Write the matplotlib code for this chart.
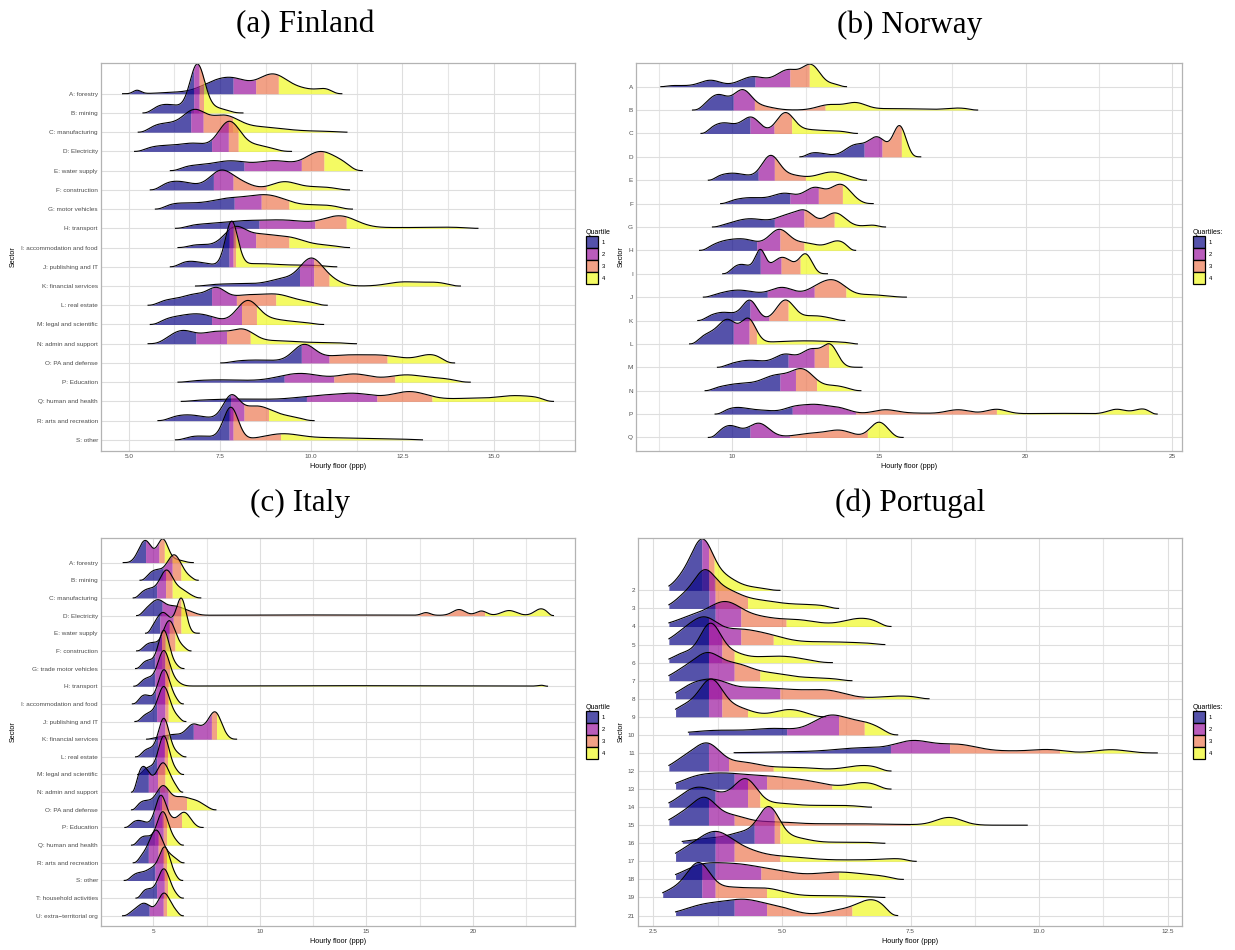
import numpy as np
import matplotlib.pyplot as plt
from matplotlib.patches import Patch
from matplotlib.colors import to_rgba

plt.rcParams['font.family'] = ['Liberation Sans', 'DejaVu Sans']

quartile_colors = ['#0D0887', '#9C179E', '#ED7953', '#F0F921']
quartile_labels = ['1', '2', '3', '4']

# ---------------- (a) Finland ----------------
fi_names = ["A: forestry", "B: mining", "C: manufacturing", "D: Electricity", "E: water supply",
            "F: construction", "G: motor vehicles", "H: transport", "I: accommodation and food",
            "J: publishing and IT", "K: financial services", "L: real estate", "M: legal and scientific",
            "N: admin and support", "O: PA and defense", "P: Education", "Q: human and health",
            "R: arts and recreation", "S: other"]
fi_start = [4.83, 5.39, 5.26, 5.16, 6.14, 5.59, 5.73, 6.28, 6.35, 6.14, 6.83, 5.53, 5.59, 5.53, 7.52, 6.35, 6.44, 5.80, 6.28]
fi_end = [10.84, 8.13, 10.98, 9.46, 11.40, 11.05, 11.13, 14.57, 11.05, 10.70, 14.09, 10.44, 10.34, 11.24, 13.93, 14.36, 16.64, 10.08, 13.05]
fi_quart = [(7.86, 8.48, 9.10), (6.78, 6.93, 7.05), (6.70, 7.04, 7.85), (7.27, 7.73, 8.00), (8.16, 9.73, 10.35),
            (7.32, 7.86, 8.77), (7.89, 8.63, 9.39), (8.57, 10.10, 10.96), (7.90, 8.48, 9.39), (7.75, 7.86, 7.93),
            (9.68, 10.07, 10.49), (7.27, 7.95, 9.03), (7.27, 8.09, 8.50), (6.84, 7.68, 8.33), (9.73, 10.49, 12.08),
            (9.26, 10.62, 12.29), (9.87, 11.80, 13.31), (7.79, 8.16, 8.83), (7.75, 7.86, 9.16)]
# density peaks per sector: (centre, height in rows, width)
fi_peaks = [
    [(5.2, 0.22, 0.12), (6.3, 0.07, 0.45), (7.3, 0.45, 0.4), (7.9, 0.65, 0.4), (8.95, 1.0, 0.4), (9.8, 0.2, 0.35), (10.45, 0.25, 0.25)],
    [(6.0, 0.45, 0.5), (6.88, 2.35, 0.2), (7.35, 0.25, 0.35)],
    [(6.0, 0.45, 0.5), (6.8, 0.95, 0.3), (7.6, 0.8, 0.4), (8.6, 0.25, 0.6), (10.0, 0.05, 0.8)],
    [(6.0, 0.3, 0.6), (6.85, 0.3, 0.35), (7.75, 1.5, 0.3), (8.5, 0.3, 0.4)],
    [(6.8, 0.25, 0.5), (7.8, 0.45, 0.45), (9.0, 0.5, 0.5), (10.25, 0.95, 0.4), (10.9, 0.25, 0.3)],
    [(6.3, 0.45, 0.5), (7.5, 0.85, 0.3), (8.0, 0.4, 0.35), (9.25, 0.4, 0.35), (10.2, 0.15, 0.5)],
    [(6.4, 0.3, 0.6), (7.7, 0.45, 0.5), (8.8, 0.7, 0.55), (10.3, 0.2, 0.5)],
    [(6.9, 0.15, 0.5), (8.0, 0.3, 0.6), (9.3, 0.4, 0.7), (10.8, 0.6, 0.45), (12.5, 0.04, 1.0), (13.8, 0.04, 0.5)],
    [(6.9, 0.15, 0.4), (7.9, 0.95, 0.3), (8.6, 0.6, 0.4), (9.4, 0.45, 0.4), (10.3, 0.12, 0.5)],
    [(6.6, 0.3, 0.5), (7.82, 2.3, 0.17), (8.5, 0.15, 0.5), (9.8, 0.08, 0.7)],
    [(8.0, 0.12, 0.8), (9.3, 0.35, 0.4), (10.0, 1.3, 0.3), (10.5, 0.3, 0.3), (12.5, 0.2, 0.4), (13.4, 0.18, 0.4)],
    [(6.2, 0.3, 0.5), (6.85, 0.4, 0.3), (7.4, 0.7, 0.25), (8.2, 0.5, 0.5), (9.1, 0.45, 0.4), (9.9, 0.15, 0.4)],
    [(6.2, 0.3, 0.5), (7.0, 0.45, 0.45), (8.25, 1.15, 0.3), (8.9, 0.25, 0.45), (9.8, 0.08, 0.4)],
    [(6.45, 0.65, 0.35), (7.4, 0.6, 0.4), (8.15, 0.6, 0.3), (9.0, 0.15, 0.6), (10.5, 0.05, 0.6)],
    [(8.5, 0.15, 0.7), (9.8, 0.85, 0.3), (10.8, 0.35, 0.6), (12.0, 0.35, 0.6), (13.3, 0.4, 0.35)],
    [(7.5, 0.12, 0.8), (9.7, 0.45, 0.6), (11.2, 0.4, 0.45), (12.6, 0.37, 0.5), (13.6, 0.15, 0.4)],
    [(8.0, 0.12, 1.0), (10.3, 0.28, 0.7), (11.3, 0.3, 0.5), (12.7, 0.5, 0.5), (14.3, 0.15, 0.6), (15.6, 0.28, 0.5), (16.3, 0.1, 0.3)],
    [(6.6, 0.3, 0.5), (7.8, 1.1, 0.22), (8.5, 0.75, 0.45), (9.5, 0.15, 0.4)],
    [(6.9, 0.2, 0.5), (7.8, 1.65, 0.2), (9.2, 0.3, 0.5), (10.5, 0.1, 0.7), (12.0, 0.05, 0.7)],
]
fi_ticks = [5.0, 7.5, 10.0, 12.5, 15.0]
fi_ticklabels = ['5.0', '7.5', '10.0', '12.5', '15.0']
fi_minor = [6.25, 8.75, 11.25, 13.75, 16.25]

# ---------------- (b) Norway ----------------
no_names = ['A', 'B', 'C', 'D', 'E', 'F', 'G', 'H', 'I', 'J', 'K', 'L', 'M', 'N', 'P', 'Q']
no_start = [7.56, 8.64, 8.93, 12.30, 9.18, 9.60, 9.32, 8.88, 9.67, 9.01, 8.82, 8.54, 9.49, 9.07, 9.41, 9.18]
no_end = [13.89, 18.36, 14.26, 16.42, 14.57, 14.80, 15.22, 14.20, 13.24, 15.93, 13.83, 14.26, 14.42, 14.38, 24.48, 15.82]
no_quart = [(10.77, 11.96, 12.62), (10.03, 10.75, 13.16), (10.60, 11.42, 12.02), (14.49, 15.10, 15.76),
            (10.88, 11.43, 12.49), (11.96, 12.93, 13.75), (11.43, 12.44, 13.47), (10.83, 11.62, 12.44),
            (10.95, 11.66, 12.31), (11.19, 12.79, 13.87), (10.60, 11.25, 11.90), (10.03, 10.57, 10.82),
            (11.90, 12.79, 13.28), (11.62, 12.15, 12.87), (12.04, 14.20, 19.00), (10.60, 11.96, 14.60)]
no_peaks = [
    [(8.0, 0.05, 0.5), (9.25, 0.27, 0.35), (10.7, 0.42, 0.45), (11.9, 0.7, 0.4), (12.7, 0.85, 0.3), (13.5, 0.1, 0.3)],
    [(9.5, 0.65, 0.35), (10.35, 0.8, 0.3), (11.0, 0.15, 0.4), (13.3, 0.22, 0.4), (14.2, 0.28, 0.35), (15.5, 0.06, 1.0), (17.7, 0.08, 0.4)],
    [(9.7, 0.45, 0.45), (10.65, 0.65, 0.3), (11.8, 0.85, 0.3), (12.6, 0.15, 0.5), (13.6, 0.08, 0.4)],
    [(12.8, 0.18, 0.4), (14.2, 0.5, 0.35), (14.95, 0.8, 0.3), (15.7, 1.3, 0.22)],
    [(10.0, 0.3, 0.55), (11.3, 1.0, 0.3), (12.0, 0.2, 0.4), (13.4, 0.35, 0.5)],
    [(10.6, 0.25, 0.6), (11.8, 0.4, 0.4), (12.8, 0.65, 0.35), (13.7, 0.8, 0.35)],
    [(10.6, 0.35, 0.6), (11.9, 0.45, 0.4), (12.5, 0.55, 0.3), (13.5, 0.6, 0.35), (14.8, 0.08, 0.3)],
    [(9.6, 0.25, 0.4), (10.4, 0.45, 0.5), (11.6, 0.85, 0.35), (12.5, 0.3, 0.4), (13.6, 0.4, 0.35)],
    [(10.3, 0.4, 0.35), (10.95, 0.9, 0.17), (11.7, 0.7, 0.35), (12.5, 0.8, 0.22)],
    [(10.2, 0.3, 0.6), (11.7, 0.4, 0.4), (12.9, 0.35, 0.4), (13.5, 0.6, 0.4), (14.7, 0.1, 0.5)],
    [(9.7, 0.35, 0.5), (10.6, 0.8, 0.25), (11.8, 0.85, 0.3), (12.8, 0.2, 0.5)],
    [(9.2, 0.4, 0.35), (9.85, 0.95, 0.3), (10.55, 1.0, 0.25), (12.5, 0.13, 1.2)],
    [(10.6, 0.3, 0.6), (11.8, 0.5, 0.35), (12.7, 0.75, 0.35), (13.35, 0.85, 0.25)],
    [(10.3, 0.3, 0.7), (11.5, 0.55, 0.45), (12.4, 0.85, 0.4), (13.5, 0.2, 0.4)],
    [(10.1, 0.25, 0.4), (11.0, 0.15, 0.5), (12.1, 0.25, 0.35), (12.8, 0.35, 0.4), (13.6, 0.25, 0.4), (15.2, 0.17, 0.4),
     (16.2, 0.04, 0.7), (17.7, 0.18, 0.4), (19.0, 0.2, 0.35), (21.0, 0.03, 1.0), (23.1, 0.2, 0.3), (24.0, 0.22, 0.3)],
    [(9.9, 0.5, 0.35), (10.9, 0.6, 0.35), (12.8, 0.18, 0.6), (13.7, 0.25, 0.4), (15.0, 0.65, 0.3)],
]
no_ticks = [10, 15, 20, 25]
no_ticklabels = ['10', '15', '20', '25']
no_minor = [7.5, 12.5, 17.5, 22.5]

# ---------------- (c) Italy ----------------
it_names = ["A: forestry", "B: mining", "C: manufacturing", "D: Electricity", "E: water supply",
            "F: construction", "G: trade motor vehicles", "H: transport", "I: accommodation and food",
            "J: publishing and IT", "K: financial services", "L: real estate", "M: legal and scientific",
            "N: admin and support", "O: PA and defense", "P: Education", "Q: human and health",
            "R: arts and recreation", "S: other", "T: household activities", "U: extra\u2212territorial org"]
it_start = [3.59, 4.38, 4.06, 4.22, 4.64, 4.22, 4.17, 4.09, 4.02, 4.14, 4.69, 4.17, 4.27, 3.98, 3.98, 3.67, 3.98, 4.06, 3.64, 4.19, 3.56]
it_end = [6.88, 7.11, 7.23, 23.78, 7.16, 6.77, 6.44, 23.50, 6.41, 6.53, 8.91, 6.53, 6.42, 6.38, 7.94, 7.34, 6.41, 6.44, 6.38, 6.41, 6.41]
it_quart = [(4.64, 5.27, 5.52), (5.47, 5.89, 6.30), (5.16, 5.58, 5.89), (5.42, 6.30, 20.55), (5.31, 5.94, 6.30),
            (5.39, 5.75, 6.02), (5.08, 5.39, 5.55), (5.08, 5.55, 5.78), (5.11, 5.55, 5.70), (5.16, 5.55, 5.70),
            (6.88, 7.73, 7.97), (5.20, 5.55, 5.70), (5.16, 5.52, 5.67), (4.77, 5.20, 5.55), (5.31, 5.70, 6.56),
            (5.05, 5.39, 6.33), (5.08, 5.47, 5.63), (4.77, 5.23, 5.52), (5.08, 5.47, 5.63), (5.16, 5.52, 5.67),
            (4.81, 5.47, 5.63)]
it_peaks = [
    [(4.62, 1.25, 0.3), (5.45, 1.3, 0.25), (6.1, 0.15, 0.3)],
    [(5.1, 0.55, 0.35), (5.98, 1.4, 0.33), (6.6, 0.15, 0.3)],
    [(4.8, 0.5, 0.4), (5.62, 1.45, 0.3), (6.3, 0.45, 0.35)],
    [(4.8, 0.35, 0.35), (5.25, 0.65, 0.3), (6.0, 0.5, 0.4), (6.7, 0.15, 0.3), (12.5, 0.035, 4.5), (17.8, 0.15, 0.2),
     (19.35, 0.33, 0.3), (20.4, 0.25, 0.25), (21.7, 0.28, 0.35), (23.2, 0.38, 0.3)],
    [(5.05, 0.4, 0.3), (5.45, 0.85, 0.25), (5.9, 0.5, 0.3), (6.33, 1.8, 0.22)],
    [(4.9, 0.45, 0.35), (5.75, 1.65, 0.28), (6.3, 0.2, 0.3)],
    [(4.75, 0.45, 0.35), (5.5, 2.1, 0.25), (6.0, 0.15, 0.25)],
    [(4.75, 0.45, 0.35), (5.5, 1.95, 0.27), (6.05, 0.2, 0.25), (14.0, 0.03, 5.0), (23.3, 0.06, 0.2)],
    [(4.6, 0.5, 0.3), (5.5, 1.9, 0.27), (6.0, 0.2, 0.25)],
    [(4.8, 0.45, 0.35), (5.5, 1.9, 0.27), (6.05, 0.25, 0.25)],
    [(5.2, 0.08, 0.4), (6.0, 0.25, 0.4), (6.85, 0.75, 0.3), (7.4, 0.4, 0.3), (7.92, 1.45, 0.3)],
    [(4.8, 0.45, 0.35), (5.5, 2.1, 0.25), (6.05, 0.2, 0.25)],
    [(4.8, 0.4, 0.35), (5.5, 2.1, 0.25), (6.0, 0.2, 0.25)],
    [(4.1, 0.3, 0.3), (4.55, 1.35, 0.3), (5.45, 1.6, 0.3), (6.0, 0.25, 0.3)],
    [(4.6, 0.5, 0.4), (5.45, 1.2, 0.3), (6.3, 0.7, 0.45), (7.1, 0.35, 0.35)],
    [(4.3, 0.4, 0.4), (5.35, 1.75, 0.25), (5.8, 0.3, 0.25), (6.45, 0.85, 0.3)],
    [(4.6, 0.5, 0.35), (5.45, 1.85, 0.27), (6.0, 0.2, 0.25)],
    [(4.6, 0.4, 0.35), (5.15, 1.7, 0.3), (5.8, 0.35, 0.3)],
    [(4.3, 0.4, 0.35), (5.0, 0.6, 0.3), (5.55, 1.75, 0.25), (6.0, 0.15, 0.25)],
    [(4.7, 0.5, 0.35), (5.5, 1.6, 0.27), (6.0, 0.15, 0.25)],
    [(4.1, 0.2, 0.3), (4.6, 0.65, 0.3), (5.5, 1.25, 0.28), (6.0, 0.2, 0.25)],
]
it_ticks = [5, 10, 15, 20]
it_ticklabels = ['5', '10', '15', '20']
it_minor = [7.5, 12.5, 17.5, 22.5]

# ---------------- (d) Portugal ----------------
pt_names = ['2', '3', '4', '5', '6', '7', '8', '9', '10', '11', '12', '13', '14', '15', '16', '17', '18', '19', '21']
pt_start = [2.80, 2.80, 2.80, 2.80, 2.80, 2.80, 2.93, 2.93, 3.18, 4.07, 2.80, 2.93, 2.80, 2.80, 3.06, 2.93, 2.93, 2.68, 2.93]
pt_end = [4.96, 6.10, 7.12, 7.00, 5.98, 6.36, 7.86, 5.85, 7.25, 12.30, 7.12, 7.12, 6.74, 9.77, 7.00, 7.61, 7.36, 7.00, 7.25]
pt_quart = [(3.44, 3.57, 3.68), (3.58, 3.70, 4.33), (3.70, 4.20, 5.08), (3.57, 4.20, 4.83), (3.57, 3.83, 4.07),
            (3.57, 4.07, 4.57), (3.57, 4.96, 6.60), (3.57, 3.83, 4.33), (5.09, 6.10, 6.60), (7.11, 8.26, 10.40),
            (3.57, 3.96, 4.83), (4.07, 4.70, 5.97), (3.70, 4.33, 4.57), (3.57, 4.07, 7.49), (4.46, 4.85, 4.96),
            (3.70, 4.07, 4.96), (3.70, 4.59, 6.10), (3.44, 3.70, 4.70), (4.07, 4.70, 6.36)]
pt_peaks = [
    [(3.1, 0.7, 0.2), (3.45, 2.5, 0.2), (3.85, 0.7, 0.25), (4.4, 0.15, 0.3)],
    [(3.1, 0.6, 0.2), (3.48, 1.6, 0.2), (3.85, 0.9, 0.3), (4.5, 0.4, 0.4), (5.5, 0.2, 0.5)],
    [(3.3, 0.55, 0.35), (3.9, 1.15, 0.3), (4.5, 0.45, 0.35), (5.3, 0.35, 0.4), (6.55, 0.45, 0.35)],
    [(3.1, 0.6, 0.25), (3.5, 1.2, 0.25), (4.1, 0.7, 0.35), (4.7, 0.4, 0.35), (5.8, 0.15, 0.8)],
    [(3.1, 0.5, 0.22), (3.6, 2.0, 0.2), (4.0, 0.5, 0.25), (4.55, 0.2, 0.3), (5.1, 0.3, 0.35)],
    [(3.1, 0.55, 0.25), (3.55, 1.3, 0.25), (4.1, 0.8, 0.3), (4.75, 0.35, 0.35), (5.6, 0.15, 0.5)],
    [(3.2, 0.5, 0.25), (3.65, 0.85, 0.3), (4.4, 0.55, 0.45), (5.2, 0.35, 0.4), (5.9, 0.4, 0.35), (7.3, 0.15, 0.4)],
    [(3.15, 0.6, 0.25), (3.62, 1.85, 0.22), (4.1, 0.5, 0.3), (5.15, 0.4, 0.3)],
    [(3.8, 0.25, 0.6), (4.9, 0.3, 0.4), (5.95, 1.05, 0.35), (6.65, 0.55, 0.3)],
    [(5.5, 0.07, 0.8), (6.6, 0.25, 0.5), (7.55, 0.6, 0.35), (8.4, 0.45, 0.4), (9.5, 0.1, 0.5), (10.2, 0.15, 0.3), (11.4, 0.18, 0.3)],
    [(3.1, 0.6, 0.25), (3.55, 1.35, 0.25), (4.2, 0.45, 0.35), (5.2, 0.2, 0.5), (6.6, 0.3, 0.35)],
    [(3.3, 0.5, 0.35), (3.9, 0.65, 0.4), (4.7, 0.6, 0.45), (5.5, 0.35, 0.4), (6.6, 0.35, 0.3)],
    [(3.3, 0.95, 0.3), (3.8, 0.5, 0.3), (4.3, 1.4, 0.22), (4.9, 0.2, 0.35), (6.0, 0.1, 0.5)],
    [(3.1, 0.6, 0.25), (3.5, 1.25, 0.22), (4.0, 0.5, 0.3), (4.8, 0.15, 0.4), (6.2, 0.08, 1.0), (8.25, 0.42, 0.25)],
    [(3.6, 0.25, 0.4), (4.3, 0.55, 0.3), (4.75, 1.75, 0.2), (5.2, 0.3, 0.3), (6.3, 0.06, 0.6)],
    [(3.2, 0.6, 0.3), (3.7, 1.3, 0.3), (4.2, 0.55, 0.35), (5.0, 0.25, 0.5), (6.6, 0.08, 0.7), (7.3, 0.1, 0.3)],
    [(3.4, 0.6, 0.35), (4.1, 0.75, 0.45), (4.9, 0.35, 0.4), (6.1, 0.4, 0.5), (6.9, 0.1, 0.3)],
    [(2.95, 0.45, 0.25), (3.38, 1.7, 0.22), (3.95, 0.5, 0.35), (4.7, 0.45, 0.35), (5.9, 0.1, 0.6)],
    [(3.5, 0.55, 0.4), (4.3, 0.8, 0.4), (5.0, 0.3, 0.3), (6.1, 0.25, 0.3), (6.75, 0.85, 0.3)],
]
pt_ticks = [2.5, 5.0, 7.5, 10.0, 12.5]
pt_ticklabels = ['2.5', '5.0', '7.5', '10.0', '12.5']
pt_minor = [3.75, 6.25, 8.75, 11.25]


def density(x, peaks, lo, hi, edge_l, edge_r):
    d = np.zeros_like(x)
    for c, h, s in peaks:
        d += h * np.exp(-0.5 * ((x - c) / s) ** 2)
    # tails fade out towards the observed min / max
    if edge_l > 0:
        d *= 1 - np.exp(-((x - lo) / edge_l) ** 2)
    if edge_r > 0:
        d *= 1 - np.exp(-((hi - x) / edge_r) ** 2)
    return d


def ridges(ax, names, start, end, quart, peaks, ticks, ticklabels, minor, edge_l, edge_r):
    n = len(names)
    top = 0
    for i in range(n):
        base = n - 1 - i
        edges = [start[i]] + list(quart[i]) + [end[i]]
        z = 2 + i * 0.01
        for k in range(4):
            xs = np.linspace(edges[k], edges[k + 1], 200)
            ys = density(xs, peaks[i], start[i], end[i], edge_l, edge_r)
            ax.fill_between(xs, base, base + ys, color=quartile_colors[k], alpha=0.7, lw=0, zorder=z)
        xs = np.linspace(start[i], end[i], 1000)
        ys = base + density(xs, peaks[i], start[i], end[i], edge_l, edge_r)
        ax.plot(xs, ys, color='black', lw=0.8, zorder=z + 0.005)
        top = max(top, ys.max())

    lo, hi = min(start), max(end)
    pad = 0.05 * (hi - lo)
    ax.set_xlim(lo - pad, hi + pad)
    ax.set_ylim(-0.58, top + 0.05)
    ax.set_yticks(range(n))
    ax.set_yticklabels(names[::-1])
    ax.set_xticks(ticks)
    ax.set_xticklabels(ticklabels)
    ax.set_xticks(minor, minor=True)
    ax.grid(True, which='major', color='#DEDEDE', lw=0.8)
    ax.grid(True, which='minor', axis='x', color='#E6E6E6', lw=0.8)
    ax.set_axisbelow(True)
    ax.tick_params(which='both', length=0, pad=2.2, labelsize=4.6, labelcolor='#4D4D4D')
    for sp in ax.spines.values():
        sp.set_color('#B3B3B3')
        sp.set_linewidth(0.9)
    ax.set_xlabel('Hourly floor (ppp)', fontsize=5.2)
    ax.set_ylabel('Sector', fontsize=5.2)


fig = plt.figure(figsize=(12.35, 9.5), dpi=100)

W, H = 1235, 950
panels = [
    # data ..., panel box (l, t, r, b px), tail fades, legend x, legend title, y-label x, title, title x/y
    (fi_names, fi_start, fi_end, fi_quart, fi_peaks, fi_ticks, fi_ticklabels, fi_minor, (101, 63, 575, 451), (0.3, 0.3), 586, 'Quartile', 17, '(a) Finland', 305, 25),
    (no_names, no_start, no_end, no_quart, no_peaks, no_ticks, no_ticklabels, no_minor, (636, 63, 1182, 451), (0.25, 0.25), 1193, 'Quartiles:', 625, '(b) Norway', 910, 25),
    (it_names, it_start, it_end, it_quart, it_peaks, it_ticks, it_ticklabels, it_minor, (101, 538, 575, 926), (0.25, 0.2), 586, 'Quartile', 17, '(c) Italy', 300, 503),
    (pt_names, pt_start, pt_end, pt_quart, pt_peaks, pt_ticks, pt_ticklabels, pt_minor, (638, 538, 1182, 926), (0.0, 0.2), 1193, 'Quartiles:', 625, '(d) Portugal', 910, 503),
]

for (names, start, end, quart, peaks, ticks, tlabels, minor, box, fade, legx, legtitle, ylx, title, tx, ty) in panels:
    l, t, r, b = box
    ax = fig.add_axes([l / W, 1 - b / H, (r - l) / W, (b - t) / H])
    ridges(ax, names, start, end, quart, peaks, ticks, tlabels, minor, fade[0], fade[1])
    ax.yaxis.set_label_coords((ylx - l) / (r - l), 0.5)
    ax.xaxis.set_label_coords(0.5, -(463 - 451) / (b - t))
    fig.text(tx / W, 1 - ty / H, title, ha='center', va='center', fontsize=22.5, family='Liberation Serif')
    handles = [Patch(facecolor=to_rgba(c, 0.7), edgecolor='black', lw=0.9) for c in quartile_colors]
    fig.legend(handles, quartile_labels, title=legtitle, loc='upper left',
               bbox_to_anchor=(legx / W, 1 - (t + 166) / H), frameon=False, fontsize=4.2,
               title_fontsize=5.0, handlelength=2.0, handleheight=2.8, labelspacing=0.0,
               handletextpad=0.7, borderpad=0, borderaxespad=0, alignment='left')

fig.savefig('out.png', dpi=100)
